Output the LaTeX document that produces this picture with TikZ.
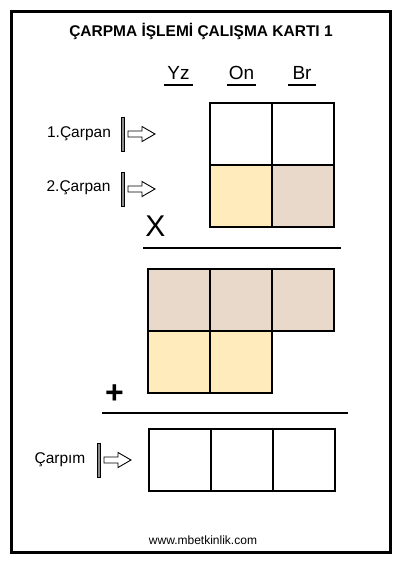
\documentclass[tikz,border=0pt]{standalone}
\usepackage{fontspec}
\setmainfont{Liberation Sans}
\usetikzlibrary{positioning}
\definecolor{cellyellow}{RGB}{255,235,188}
\definecolor{cellbeige}{RGB}{233,217,203}

\tikzset{
  cell/.style={draw, line width=1.1pt, minimum size=62pt, inner sep=0pt, outer sep=0pt},
  digit/.style={font=\fontsize{19}{19}\selectfont, anchor=base},
  label/.style={font=\fontsize{15.5}{16}\selectfont},
}
% bar and outlined arrow pointing to the boxes
\newcommand{\pointer}[2]{%
  \filldraw[fill=black!45, line width=0.8pt] (#1,#2-17) rectangle (#1+3.5,#2+17);
  \draw[line width=0.9pt, line join=miter] (#1+7,#2-3) -- (#1+21,#2-3) -- (#1+21,#2-7.5)
    -- (#1+34,#2) -- (#1+21,#2+7.5) -- (#1+21,#2+3) -- (#1+7,#2+3) -- cycle;
}

\begin{document}
\begin{tikzpicture}[x=1pt, y=-1pt]
\useasboundingbox (0,0) rectangle (400,566);
\draw[line width=3pt] (11,11) rectangle (390,552); %outer frame

\node[font=\fontsize{15.5}{16}\selectfont\bfseries] (title) at (201,31) {ÇARPMA İŞLEMİ ÇALIŞMA KARTI 1};

%place values
\node[digit] (yz) at (178.5,79) {Yz};
\node[digit] (on) at (241.5,79) {On};
\node[digit] (br) at (302,79) {Br};
\draw[line width=2pt] (164,85) -- (193,85);
\draw[line width=2pt] (227,85) -- (256,85);
\draw[line width=2pt] (288,85) -- (316,85);

%factors
\node[cell] (a2) at (241,134) {};
\node[cell] (a3) at (303,134) {};
\node[cell, fill=cellyellow] (b2) at (241,196) {};
\node[cell, fill=cellbeige] (b3) at (303,196) {};
\node[label] (f1) at (79,134) {1.Çarpan};
\node[label] (f2) at (78.5,188) {2.Çarpan};
\pointer{121}{134}
\pointer{121}{189}

\node[font=\fontsize{30}{30}\selectfont, anchor=base] (times) at (155.5,236) {X};
\draw[line width=2.6pt] (143,248) -- (341,248);

%partial products
\foreach \c/\x in {1/179,2/241,3/303}
  \node[cell, fill=cellbeige] (p\c) at (\x,300) {};
\foreach \c/\x in {1/179,2/241}
  \node[cell, fill=cellyellow] (q\c) at (\x,362) {};

\node[font=\fontsize{32}{32}\selectfont\bfseries] (plus) at (114.5,394) {+};
\draw[line width=2.6pt] (102,413) -- (348,413);

%result
\foreach \c/\x in {1/180,2/242,3/304}
  \node[cell] (r\c) at (\x,460) {};
\node[label] (res) at (60,460) {Çarpım};
\pointer{97}{460}

\node[font=\fontsize{12}{12}\selectfont] (web) at (203,540) {www.mbetkinlik.com};
\end{tikzpicture}
\end{document}
